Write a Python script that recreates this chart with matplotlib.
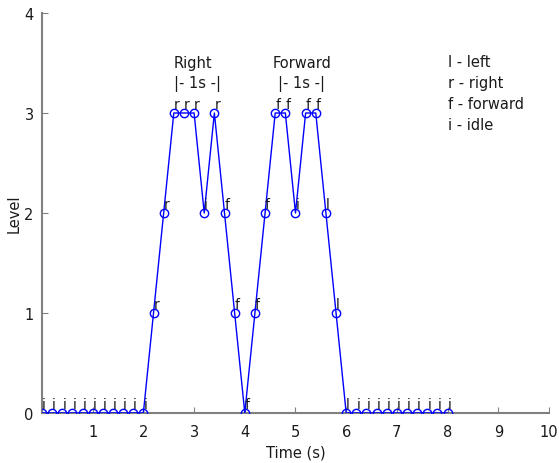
import matplotlib
matplotlib.use("Agg")
import matplotlib.pyplot as plt

# samples every 0.2 s
t = [0.0, 0.2, 0.4, 0.6, 0.8, 1.0, 1.2, 1.4, 1.6, 1.8, 2.0,
     2.2, 2.4, 2.6, 2.8, 3.0, 3.2, 3.4, 3.6, 3.8, 4.0,
     4.2, 4.4, 4.6, 4.8, 5.0, 5.2, 5.4, 5.6, 5.8, 6.0,
     6.2, 6.4, 6.6, 6.8, 7.0, 7.2, 7.4, 7.6, 7.8, 8.0]
level = [0, 0, 0, 0, 0, 0, 0, 0, 0, 0, 0,
         1, 2, 3, 3, 3, 2, 3, 2, 1, 0,
         1, 2, 3, 3, 2, 3, 3, 2, 1, 0,
         0, 0, 0, 0, 0, 0, 0, 0, 0, 0]
labels = ["i"] * 11 + ["r", "r", "r", "r", "r", "i", "r", "f", "f", "f",
                       "f", "f", "f", "f", "i", "f", "f", "l", "l", "l"] + ["i"] * 10

GREY = "#808080"
INK = "#1a1a1a"

fig = plt.figure(figsize=(5.59, 4.64), dpi=100)
ax = fig.add_axes([0.0751, 0.1078, 0.907, 0.862])
ax.plot(t, level, color="#0000ff", lw=1, marker="o", ms=6, mfc="none",
        mec="#0000ff", mew=1, zorder=3)
for x, y, s in zip(t, level, labels):
    ax.text(x, y + 0.05, s, fontsize=10, color=INK, ha="left", va="baseline")

ax.text(2.6, 3.51, "Right", fontsize=10.5, va="center", ha="left", color=INK)
ax.text(2.6, 3.30, "|- 1s -|", fontsize=10.5, va="center", ha="left", color=INK)
ax.text(4.55, 3.51, "Forward", fontsize=10.5, va="center", ha="left", color=INK)
ax.text(4.65, 3.30, "|- 1s -|", fontsize=10.5, va="center", ha="left", color=INK)
ax.text(8.0, 3.20, "l - left\nr - right\nf - forward\ni - idle", fontsize=10.5,
        va="center", ha="left", linespacing=1.5, color=INK)

ax.set_xlim(0, 10)
ax.set_ylim(0, 4)
ax.set_xticks(range(1, 11))
ax.set_yticks(range(0, 5))
ax.tick_params(direction="in", length=4, color=GREY, labelsize=10.5, labelcolor=INK)
ax.tick_params(axis="x", pad=8)
ax.tick_params(axis="y", pad=6)
for s in ["top", "right"]:
    ax.spines[s].set_visible(False)
for s in ["left", "bottom"]:
    ax.spines[s].set_color(GREY)
    ax.spines[s].set_linewidth(1.5)
ax.set_xlabel("Time (s)", fontsize=10.5, labelpad=4, color=INK)
ax.set_ylabel("Level", fontsize=10.5, labelpad=2, color=INK)

fig.savefig("out.png", dpi=100)
